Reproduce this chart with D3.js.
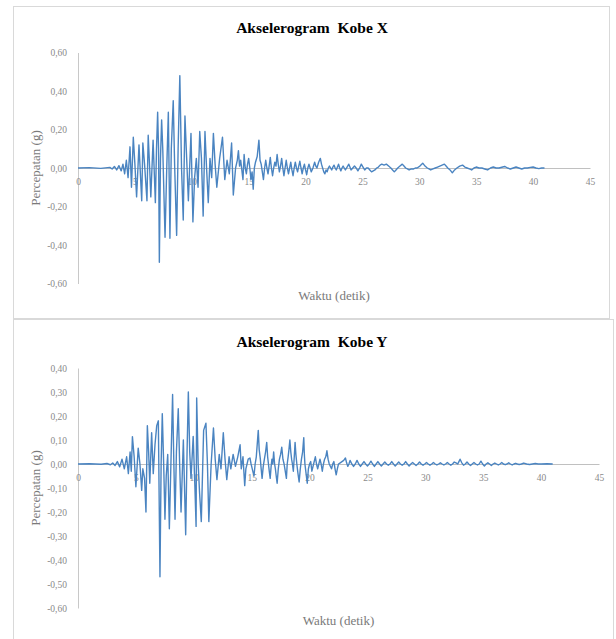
<!DOCTYPE html>
<html>
<head>
<meta charset="utf-8">
<script src="https://cdn.jsdelivr.net/npm/d3@7"></script>
<style>
  body { margin: 0; background: #fff; }
  svg { display: block; }
  .tick text { font-family: "Liberation Serif", "DejaVu Serif", serif; font-size: 9.5px; fill: #8a8a8a; }
</style>
</head>
<body>
<svg id="chart" width="616" height="639"></svg>
<script>
// titik data [waktu (detik), percepatan (g)]
const kobeX = [
  [0,0],[1,0.002],[2,-0.002],[2.8,0.003],[3.0,-0.005],[3.2,0.008],[3.4,-0.01],[3.6,0.012],[3.8,-0.015],[3.95,0.02],
  [4.1,-0.03],[4.25,0.04],[4.4,-0.05],[4.57,0.11],[4.7,-0.10],[4.86,0.16],[5.0,0.02],[5.15,-0.15],[5.36,0.12],[5.5,-0.05],
  [5.6,-0.17],[5.7,0.13],[5.85,0.02],[6.06,-0.17],[6.17,0.17],[6.3,0.0],[6.4,-0.15],[6.6,0.145],[6.8,-0.18],[6.9,0.1],
  [7.0,0.29],[7.08,0.1],[7.15,-0.49],[7.25,0.05],[7.35,0.25],[7.45,0.1],[7.65,-0.36],[7.8,0.0],[7.94,0.29],[8.08,-0.365],
  [8.2,0.1],[8.37,0.35],[8.5,0.0],[8.67,-0.35],[8.8,0.1],[8.95,0.48],[9.1,0.0],[9.25,-0.27],[9.4,0.27],[9.55,0.05],
  [9.7,-0.17],[9.93,0.18],[10.1,-0.28],[10.25,-0.05],[10.4,0.05],[10.55,-0.1],[10.7,0.19],[10.85,0.05],[11.0,-0.25],[11.16,0.19],
  [11.3,0.0],[11.45,-0.18],[11.6,0.05],[11.75,-0.05],[11.9,0.18],[12.05,0.02],[12.2,-0.1],[12.45,0.05],[12.7,0.16],[12.9,-0.06],
  [13.1,0.04],[13.3,-0.03],[13.5,0.13],[13.65,-0.14],[13.85,0.0],[14.0,0.04],[14.1,0.09],[14.2,0.01],[14.3,0.04],[14.5,-0.06],
  [14.6,0.07],[14.7,0.0],[14.8,-0.03],[14.9,0.02],[15.0,0.05],[15.1,0.0],[15.2,-0.06],[15.3,-0.02],[15.4,-0.11],[15.5,0.0],
  [15.6,0.03],[15.75,0.06],[15.9,0.145],[16.0,0.04],[16.1,0.02],[16.2,-0.02],[16.3,-0.06],[16.4,0.0],[16.5,0.04],[16.6,0.0],
  [16.7,-0.03],[16.8,0.01],[16.9,0.055],[17.0,0.0],[17.1,-0.04],[17.2,0.0],[17.3,0.03],[17.4,0.01],[17.5,0.07],[17.6,0.02],
  [17.7,-0.02],[17.8,0.01],[17.9,0.05],[18.0,0.0],[18.1,-0.04],[18.2,0.0],[18.3,0.04],[18.4,0.0],[18.5,-0.03],[18.6,0.0],
  [18.7,0.03],[18.8,-0.01],[18.9,-0.04],[19.0,0.0],[19.1,0.03],[19.2,0.0],[19.3,-0.02],[19.4,0.01],[19.5,0.035],[19.6,0.0],
  [19.7,-0.03],[19.8,0.0],[19.9,0.02],[20.0,-0.01],[20.1,-0.035],[20.2,0.0],[20.3,0.02],[20.4,0.0],[20.5,-0.02],[20.65,0.0],
  [20.8,0.03],[20.9,0.01],[21.0,0.0],[21.15,0.03],[21.3,0.05],[21.4,0.02],[21.5,0.0],[21.6,-0.02],[21.7,-0.03],[21.8,-0.01],
  [21.9,-0.02],[22.0,0.0],[22.1,0.01],[22.2,0.0],[22.3,-0.01],[22.4,0.005],[22.5,0.015],[22.6,0.0],[22.7,-0.01],[22.8,0.005],
  [22.9,0.02],[23.0,0.0],[23.1,-0.015],[23.2,0.0],[23.3,0.01],[23.4,0.0],[23.5,-0.01],[23.65,0.005],[23.8,0.02],[23.9,0.005],
  [24.0,-0.01],[24.15,0.0],[24.3,0.01],[24.45,0.0],[24.6,-0.015],[24.75,0.0],[24.9,0.02],[25.05,0.005],[25.2,-0.01],[25.35,0.0],
  [25.5,0.0],[25.65,-0.01],[25.8,-0.02],[25.95,-0.015],[26.1,-0.01],[26.25,0.0],[26.4,0.005],[26.55,0.015],[26.7,0.02],[26.9,0.015],
  [27.1,0.02],[27.3,0.01],[27.5,0.0],[27.65,-0.01],[27.8,-0.02],[27.95,-0.01],[28.1,0.0],[28.3,0.01],[28.5,0.02],[28.65,0.01],
  [28.8,0.0],[28.95,-0.005],[29.1,-0.01],[29.3,-0.005],[29.5,-0.005],[29.65,0.0],[29.8,0.0],[30.05,0.01],[30.3,0.025],[30.5,0.01],
  [30.7,0.0],[30.85,-0.005],[31.0,-0.01],[31.2,-0.005],[31.4,0.0],[31.6,0.005],[31.8,0.01],[32.0,0.015],[32.2,0.02],[32.35,0.01],
  [32.5,0.0],[32.7,-0.01],[32.9,-0.025],[33.1,-0.01],[33.3,0.0],[33.55,0.01],[33.8,0.015],[34.0,0.005],[34.2,0.0],[34.4,-0.005],
  [34.6,-0.01],[34.8,0.0],[35.0,0.005],[35.25,0.0],[35.5,0.0],[35.75,-0.005],[36.0,-0.01],[36.25,0.0],[36.5,0.005],[36.75,0.0],
  [37.0,0.0],[37.25,0.004],[37.5,0.008],[37.75,0.0],[38.0,-0.005],[38.25,0.0],[38.5,0.005],[38.75,0.0],[39.0,-0.005],[39.25,0.0],
  [39.5,0.0],[39.75,0.003],[40.0,0.005],[40.25,0.0],[40.5,-0.003],[40.75,0.0],[41.0,0.0]
];

const kobeY = [
  [0,0],[1,0.001],[2,-0.001],[2.5,0.002],[2.8,-0.003],[3.0,0.004],[3.2,-0.006],[3.4,0.01],[3.6,-0.012],[3.8,0.02],
  [4.0,-0.02],[4.2,0.03],[4.35,-0.04],[4.5,0.05],[4.6,-0.03],[4.7,0.114],[4.85,0.03],[5.0,-0.095],[5.2,0.066],[5.35,0.0],
  [5.5,-0.11],[5.6,-0.02],[5.75,-0.06],[5.87,-0.2],[5.99,0.16],[6.1,0.05],[6.2,-0.08],[6.36,0.13],[6.5,-0.04],[6.65,0.08],
  [6.8,0.16],[6.94,0.18],[7.08,-0.47],[7.18,0.0],[7.28,0.21],[7.4,0.0],[7.51,-0.23],[7.62,-0.05],[7.75,0.04],[7.89,-0.27],
  [8.05,0.05],[8.17,0.29],[8.28,0.0],[8.38,-0.23],[8.5,0.05],[8.66,0.23],[8.78,0.0],[8.9,-0.2],[9.1,0.1],[9.3,-0.295],
  [9.42,0.05],[9.53,0.3],[9.65,0.05],[9.76,-0.06],[9.95,0.115],[10.1,-0.1],[10.2,-0.26],[10.25,0.275],[10.38,0.0],[10.5,-0.12],
  [10.65,-0.24],[10.85,0.14],[11.05,0.17],[11.18,0.0],[11.3,-0.24],[11.5,0.0],[11.7,0.15],[11.85,0.02],[12.0,-0.065],[12.2,0.04],
  [12.35,-0.02],[12.55,0.13],[12.7,0.02],[12.85,-0.065],[13.05,0.03],[13.2,-0.02],[13.4,0.04],[13.6,-0.01],[13.8,0.03],[14.0,0.08],
  [14.1,-0.02],[14.25,0.03],[14.4,-0.09],[14.5,-0.02],[14.6,0.0],[14.7,0.02],[14.85,0.025],[14.95,0.0],[15.05,-0.02],[15.2,-0.05],
  [15.3,0.0],[15.4,0.03],[15.57,0.14],[15.65,0.06],[15.75,0.02],[15.82,-0.02],[15.9,-0.06],[16.0,-0.01],[16.1,0.02],[16.2,0.05],
  [16.3,0.09],[16.38,0.03],[16.45,0.0],[16.52,-0.03],[16.6,-0.06],[16.68,-0.01],[16.75,0.02],[16.82,0.0],[16.9,0.05],[16.98,0.0],
  [17.05,-0.02],[17.12,-0.05],[17.2,-0.08],[17.3,-0.02],[17.4,0.02],[17.5,0.04],[17.6,0.07],[17.7,0.02],[17.8,0.0],[17.9,-0.03],
  [18.0,-0.06],[18.07,0.0],[18.15,0.03],[18.22,0.06],[18.3,0.1],[18.38,0.05],[18.45,0.02],[18.52,0.0],[18.6,-0.03],[18.68,0.03],
  [18.75,0.09],[18.82,0.04],[18.9,0.0],[19.0,-0.04],[19.1,-0.075],[19.2,-0.02],[19.3,0.02],[19.4,0.05],[19.5,0.11],[19.55,0.04],
  [19.6,0.0],[19.7,-0.04],[19.8,-0.08],[19.9,-0.02],[20.0,0.0],[20.1,0.01],[20.2,-0.03],[20.35,0.0],[20.5,0.03],[20.6,0.0],
  [20.7,-0.02],[20.8,0.0],[20.9,0.02],[21.0,0.0],[21.1,-0.03],[21.2,0.0],[21.3,0.02],[21.4,0.03],[21.5,0.055],[21.6,0.02],
  [21.7,0.0],[21.8,-0.01],[21.9,-0.02],[22.0,0.0],[22.1,0.01],[22.2,-0.02],[22.3,-0.045],[22.4,-0.02],[22.5,0.0],[22.65,0.005],
  [22.8,0.01],[22.95,0.015],[23.1,0.025],[23.2,0.005],[23.3,-0.01],[23.4,0.0],[23.5,0.015],[23.65,0.0],[23.8,-0.01],[23.95,0.0],
  [24.1,0.015],[24.25,0.0],[24.4,-0.01],[24.55,0.0],[24.7,0.01],[24.85,0.0],[25.0,-0.008],[25.15,0.0],[25.3,0.012],[25.45,0.0],
  [25.6,-0.01],[25.75,0.0],[25.9,0.01],[26.05,0.0],[26.2,-0.008],[26.35,0.0],[26.5,0.008],[26.65,0.0],[26.8,-0.005],[26.95,0.0],
  [27.1,0.01],[27.25,0.0],[27.4,-0.008],[27.55,0.0],[27.7,0.008],[27.85,0.0],[28.0,-0.005],[28.15,0.0],[28.3,0.01],[28.45,0.0],
  [28.6,-0.008],[28.75,0.0],[28.9,0.006],[29.05,0.0],[29.2,-0.006],[29.35,0.0],[29.5,0.008],[29.65,0.0],[29.8,-0.005],[29.95,0.0],
  [30.1,0.006],[30.25,0.0],[30.4,-0.005],[30.55,0.0],[30.7,0.006],[30.85,0.0],[31.0,-0.004],[31.15,0.0],[31.3,0.005],[31.45,0.0],
  [31.6,-0.004],[31.75,0.0],[31.9,0.006],[32.05,0.0],[32.2,-0.005],[32.35,0.0],[32.5,0.008],[32.65,0.005],[32.8,0.0],[32.9,0.01],
  [33.0,0.02],[33.15,0.005],[33.3,-0.005],[33.45,0.0],[33.6,0.008],[33.75,0.0],[33.9,-0.006],[34.05,0.0],[34.2,0.006],[34.35,0.0],
  [34.5,-0.004],[34.65,0.0],[34.8,0.012],[34.95,0.0],[35.1,-0.008],[35.25,0.0],[35.4,0.005],[35.55,0.0],[35.7,-0.006],[35.85,0.0],
  [36.0,0.004],[36.15,0.0],[36.3,-0.004],[36.45,0.0],[36.6,0.006],[36.75,0.0],[36.9,-0.003],[37.05,0.0],[37.2,0.005],[37.35,0.0],
  [37.5,-0.004],[37.65,0.0],[37.8,0.003],[37.95,0.0],[38.1,-0.002],[38.3,0.0],[38.5,0.004],[38.75,0.0],[39.0,-0.002],[39.25,0.0],
  [39.5,0.002],[39.75,0.0],[40.0,0.0],[40.5,0.001],[41.0,0.0]
];

const xTicks = [0, 5, 10, 15, 20, 25, 30, 35, 40, 45];
const yTicksX = [0.6, 0.4, 0.2, 0, -0.2, -0.4, -0.6];
const yTicksY = [0.4, 0.3, 0.2, 0.1, 0, -0.1, -0.2, -0.3, -0.4, -0.5, -0.6];

// format angka gaya Indonesia: koma desimal, tanda minus biasa
const lokal = d3.formatLocale({ decimal: ",", thousands: ".", grouping: [3], currency: ["", ""], minus: "-" });
const fmt = lokal.format(".2f");

const svg = d3.select("#chart");

// bingkai tiap grafik
svg.append("rect").attr("x", 13.5).attr("y", 6.5).attr("width", 596).attr("height", 312)
    .attr("fill", "none").attr("stroke", "#d9d9d9");
svg.append("rect").attr("x", 13.5).attr("y", 319.5).attr("width", 600).attr("height", 330)
    .attr("fill", "none").attr("stroke", "#d9d9d9");

gambarGrafik({
  judul: "Akselerogram  Kobe X", data: kobeX, yTicks: yTicksX,
  kiri: 78, kanan: 590, atas: 52.5, bawah: 283.5, yMax: 0.6, yMin: -0.6,
  judulY: 33, labelXY: 300
});
gambarGrafik({
  judul: "Akselerogram  Kobe Y", data: kobeY, yTicks: yTicksY,
  kiri: 78, kanan: 599, atas: 368, bawah: 608, yMax: 0.4, yMin: -0.6,
  judulY: 347, labelXY: 625
});

function gambarGrafik(o) {
  const x = d3.scaleLinear().domain([0, 45]).range([o.kiri, o.kanan]);
  const y = d3.scaleLinear().domain([o.yMin, o.yMax]).range([o.bawah, o.atas]);
  const g = svg.append("g");

  // sumbu Y
  const ay = g.append("g").attr("transform", "translate(" + x(0) + ",0)")
      .call(d3.axisLeft(y).tickValues(o.yTicks).tickSize(0).tickPadding(11).tickFormat(fmt));
  ay.select(".domain").attr("stroke", "#c8c8c8");

  // sumbu X di garis nol
  const ax = g.append("g").attr("transform", "translate(0," + y(0) + ")")
      .call(d3.axisBottom(x).tickValues(xTicks).tickSize(0).tickPadding(10));
  ax.select(".domain").attr("stroke", "#c0c0c0");

  // garis akselerogram
  const garis = d3.line().x(d => x(d[0])).y(d => y(d[1]));
  g.append("path").datum(o.data)
      .attr("d", garis)
      .attr("fill", "none")
      .attr("stroke", "#4a84c1")
      .attr("stroke-width", 1.4)
      .attr("stroke-linejoin", "round");

  // judul
  g.append("text").attr("x", 312).attr("y", o.judulY)
      .attr("text-anchor", "middle")
      .style("font-family", "'Liberation Serif', serif").style("font-weight", "bold").style("font-size", "15.5px")
      .style("white-space", "pre")
      .text(o.judul);

  g.append("text").attr("x", (o.kiri + o.kanan) / 2).attr("y", o.labelXY)
      .attr("text-anchor", "middle")
      .style("font-family", "'Liberation Serif', serif").style("font-size", "13px").attr("fill", "#7a7a7a")
      .text("Waktu (detik)");

  g.append("text")
      .attr("transform", "translate(40," + ((o.atas + o.bawah) / 2) + ") rotate(-90)")
      .attr("text-anchor", "middle")
      .style("font-family", "'Liberation Serif', serif").style("font-size", "13px").attr("fill", "#7a7a7a")
      .text("Percepatan (g)");
}
</script>
</body>
</html>
